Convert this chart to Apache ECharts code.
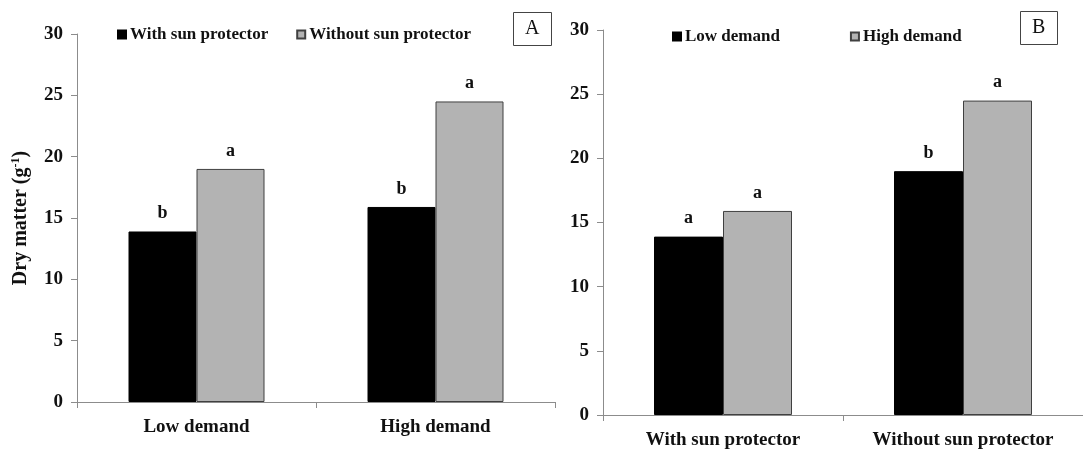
<!DOCTYPE html>
<html>
<head>
<meta charset="utf-8">
<script src="https://cdn.jsdelivr.net/npm/echarts@6/dist/echarts.min.js"></script>
<style>
  html, body { margin: 0; padding: 0; background: #fff; }
  #chart { width: 1083px; height: 452px; }
</style>
</head>
<body>
<div id="chart"></div>
<script>
var mychart = echarts.init(document.getElementById('chart'));

// panel A: x = demand, series = protector
const demandCats = ['Low demand', 'High demand'];
const withSun = [13.9, 15.9];
const withoutSun = [19.0, 24.5];
const withSunLetters = ['b', 'b'];
const withoutSunLetters = ['a', 'a'];

// panel B: x = protector, series = demand
const protectorCats = ['With sun protector', 'Without sun protector'];
const lowDemand = [13.9, 19.0];
const highDemand = [15.9, 24.5];
const lowLetters = ['a', 'b'];
const highLetters = ['a', 'a'];

const yTicks = [0, 5, 10, 15, 20, 25, 30];

const serif = 'Liberation Serif';
const axisGray = '#8c8c8c';
const barGray = '#b3b3b3';

function yAxisFor(idx, withName) {
    var ax = {
        type: 'value',
        gridIndex: idx,
        min: yTicks[0],
        max: yTicks[yTicks.length - 1],
        interval: yTicks[1] - yTicks[0],
        splitLine: { show: false },
        axisLine: { show: true, lineStyle: { color: axisGray, width: 1 } },
        axisTick: { show: true, length: 6, lineStyle: { color: axisGray } },
        axisLabel: {
            margin: 14,
            color: '#111',
            fontFamily: serif,
            fontWeight: 'bold',
            fontSize: 19
        }
    };
    if (withName) {
        ax.name = '{t|Dry matter (g}{s|-1}{t|)}';
        ax.nameLocation = 'middle';
        ax.nameRotate = 90;
        ax.nameGap = 45;
        ax.nameTextStyle = {
            rich: {
                t: { fontFamily: serif, fontWeight: 'bold', fontSize: 20, color: '#111', lineHeight: 22 },
                s: { fontFamily: serif, fontWeight: 'bold', fontSize: 12, color: '#111', lineHeight: 22, verticalAlign: 'top', padding: [0, 0, 7, 0] }
            }
        };
    }
    return ax;
}

function xAxisFor(idx, cats) {
    return {
        type: 'category',
        gridIndex: idx,
        data: cats,
        axisLine: { lineStyle: { color: axisGray, width: 1 } },
        axisTick: { show: true, length: 6, lineStyle: { color: axisGray } },
        axisLabel: {
            margin: 16,
            color: '#111',
            fontFamily: serif,
            fontWeight: 'bold',
            fontSize: 19
        }
    };
}

function barSeries(name, idx, values, letters, color, border, width) {
    return {
        name: name,
        type: 'bar',
        xAxisIndex: idx,
        yAxisIndex: idx,
        barWidth: width,
        barGap: '0%',
        data: values,
        itemStyle: { color: color, borderColor: border, borderWidth: 1 },
        label: {
            show: true,
            position: 'top',
            distance: 9,
            color: '#111',
            fontFamily: serif,
            fontWeight: 'bold',
            fontSize: 18,
            formatter: function (p) { return letters[p.dataIndex]; }
        },
        animation: false
    };
}

function boxLabel(text, left, top) {
    return {
        text: text,
        left: left,
        top: top,
        padding: [7, 12, 7, 12],
        borderWidth: 1,
        borderColor: '#444',
        textStyle: { fontFamily: serif, fontWeight: 'normal', fontSize: 20, color: '#111' }
    };
}

function legendFor(names, left, top, gap) {
    return {
        data: names,
        left: left,
        top: top,
        itemWidth: 8,
        itemHeight: 8,
        itemGap: gap,
        icon: 'rect',
        textStyle: { fontFamily: serif, fontWeight: 'bold', fontSize: 17, color: '#111', padding: [0, 0, 0, -1] }
    };
}

option = {
    backgroundColor: '#fff',
    title: [boxLabel('A', 513, 12), boxLabel('B', 1020, 11)],
    legend: [
        legendFor(['With sun protector', 'Without sun protector'], 112, 21, 28),
        legendFor(['Low demand', 'High demand'], 667, 23, 70)
    ],
    grid: [
        { left: 77, top: 34, width: 478, height: 368 },
        { left: 603, top: 30, width: 486, height: 385 }
    ],
    xAxis: [xAxisFor(0, demandCats), xAxisFor(1, protectorCats)],
    yAxis: [yAxisFor(0, true), yAxisFor(1, false)],
    series: [
        barSeries('With sun protector', 0, withSun, withSunLetters, '#000', '#000', 68),
        barSeries('Without sun protector', 0, withoutSun, withoutSunLetters, barGray, '#404040', 68),
        barSeries('Low demand', 1, lowDemand, lowLetters, '#000', '#000', 69),
        barSeries('High demand', 1, highDemand, highLetters, barGray, '#404040', 69)
    ]
};
mychart.setOption(option, true);
</script>
</body>
</html>
